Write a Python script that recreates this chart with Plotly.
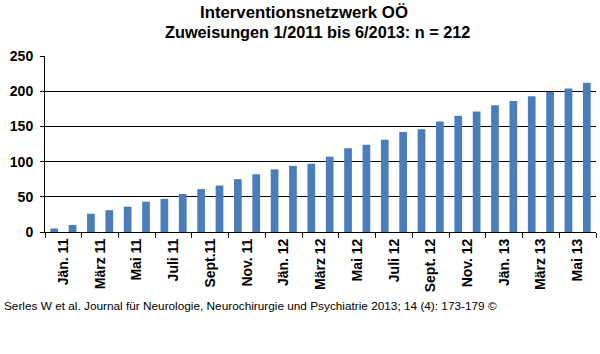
import plotly.graph_objects as go

months = ["Jän. 11", "Feb. 11", "März 11", "Apr. 11", "Mai 11", "Juni 11",
          "Juli 11", "Aug. 11", "Sept.11", "Okt. 11", "Nov. 11", "Dez. 11",
          "Jän. 12", "Feb. 12", "März 12", "Apr. 12", "Mai 12", "Juni 12",
          "Juli 12", "Aug. 12", "Sept. 12", "Okt. 12", "Nov. 12", "Dez. 12",
          "Jän. 13", "Feb. 13", "März 13", "Apr. 13", "Mai 13", "Juni 13"]
values = [5, 10, 26, 31, 36, 43, 47, 54, 61, 66, 75, 82, 89, 94, 97,
          107, 119, 124, 131, 142, 146, 157, 165, 171, 180, 186, 193, 199, 204, 212]
yticks = [0, 50, 100, 150, 200, 250]

idx = list(range(len(months)))
label_pos = [i + 0.5 for i in idx[::2]]
label_text = months[::2]

BAR = "#4a7ebb"
FONT = "Liberation Sans, Arial, sans-serif"

fig = go.Figure(go.Bar(x=idx, y=values, marker=dict(color=BAR, line=dict(width=0)),
                       hoverinfo="skip"))

fig.update_layout(
    width=600, height=354,
    margin=dict(l=45, r=4, t=56, b=122),
    paper_bgcolor="white", plot_bgcolor="white",
    bargap=0.58, showlegend=False,
    font=dict(family=FONT, color="black"),
)
fig.update_xaxes(
    range=[-0.5, len(months) - 0.5],
    tickmode="array", tickvals=label_pos, ticktext=label_text,
    ticks="", tickangle=-90,
    tickfont=dict(family=FONT, size=14, color="black", weight="bold"),
    showline=True, linecolor="black", linewidth=1,
    showgrid=False, zeroline=False,
    minor=dict(tick0=-0.5, dtick=2, ticks="outside", ticklen=5,
               tickcolor="black", tickwidth=1, showgrid=False),
)
fig.update_yaxes(
    range=[0, 250], tickmode="array", tickvals=yticks,
    ticks="outside", ticklen=4, tickcolor="black",
    tickfont=dict(family=FONT, size=14, color="black", weight="bold"),
    showline=True, linecolor="black", linewidth=1,
    showgrid=True, gridcolor="black", gridwidth=1,
    zeroline=False, ticklabelstandoff=4,
)
fig.add_annotation(text="<b>Interventionsnetzwerk OÖ</b>", xref="paper", yref="paper",
                   x=(304 - 45) / 551, y=1 + (56 - 13) / 176, xanchor="center", yanchor="middle",
                   showarrow=False, font=dict(size=16.8, family=FONT))
fig.add_annotation(text="<b>Zuweisungen 1/2011 bis 6/2013: n = 212</b>", xref="paper", yref="paper",
                   x=(317.5 - 45) / 551, y=1 + (56 - 32) / 176, xanchor="center", yanchor="middle",
                   showarrow=False, font=dict(size=16.3, family=FONT))
fig.add_annotation(text="Serles W et al. Journal für Neurologie, Neurochirurgie und Psychiatrie 2013; 14 (4): 173-179 ©",
                   xref="paper", yref="paper", x=-43 / 551, y=-(306 - 232) / 176,
                   xanchor="left", yanchor="middle", showarrow=False,
                   font=dict(size=11.8, family=FONT, color="black"))
fig.write_html("out.html")
